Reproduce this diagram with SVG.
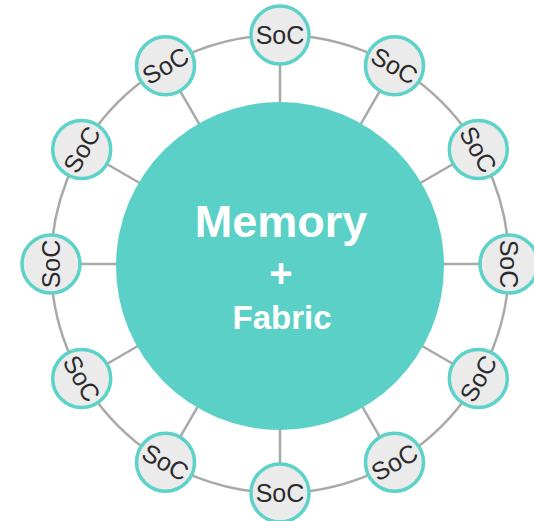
<svg xmlns="http://www.w3.org/2000/svg" width="534" height="521" viewBox="0 0 534 521">
  <style>
    .ring { fill: none; stroke: #a9a9a9; stroke-width: 2.5; }
    .spoke { stroke: #a9a9a9; stroke-width: 2.5; }
    .soc circle { fill: #ebebeb; stroke: #5dd2c8; stroke-width: 3.5; }
    .soc text { font-family: "Liberation Sans", Arial, sans-serif; font-size: 25px; fill: #2b2b2b; text-anchor: middle; }
    .main circle { fill: #5bd0c6; }
    .main text { font-family: "Liberation Sans", Arial, sans-serif; font-weight: bold; fill: #ffffff; text-anchor: middle; }
  </style>
  <rect width="534" height="521" fill="#ffffff"/>
  <g id="connectors">
    <circle class="ring" cx="280" cy="264" r="229"/>
    <line class="spoke" x1="280" y1="104" x2="280" y2="35"/>
    <line class="spoke" x1="360" y1="125.4" x2="394.5" y2="65.7"/>
    <line class="spoke" x1="418.6" y1="184" x2="478.3" y2="149.5"/>
    <line class="spoke" x1="440" y1="264" x2="509" y2="264"/>
    <line class="spoke" x1="418.6" y1="344" x2="478.3" y2="378.5"/>
    <line class="spoke" x1="360" y1="402.6" x2="394.5" y2="462.3"/>
    <line class="spoke" x1="280" y1="424" x2="280" y2="493"/>
    <line class="spoke" x1="200" y1="402.6" x2="165.5" y2="462.3"/>
    <line class="spoke" x1="141.4" y1="344" x2="81.7" y2="378.5"/>
    <line class="spoke" x1="120" y1="264" x2="51" y2="264"/>
    <line class="spoke" x1="141.4" y1="184" x2="81.7" y2="149.5"/>
    <line class="spoke" x1="200" y1="125.4" x2="165.5" y2="65.7"/>
  </g>
  <g id="memory-fabric" class="main">
    <circle cx="280" cy="266" r="164"/>
    <text x="281" y="237" font-size="45">Memory</text>
    <text x="281" y="287" font-size="40">+</text>
    <text x="282" y="329" font-size="33">Fabric</text>
  </g>
  <g id="soc-1" class="soc"><circle cx="280" cy="35" r="29"/><text x="280" y="43.8" transform="rotate(0 280 35)">SoC</text></g>
  <g id="soc-2" class="soc"><circle cx="394.5" cy="65.7" r="29"/><text x="394.5" y="74.5" transform="rotate(30 394.5 65.7)">SoC</text></g>
  <g id="soc-3" class="soc"><circle cx="478.3" cy="149.5" r="29"/><text x="478.3" y="158.3" transform="rotate(60 478.3 149.5)">SoC</text></g>
  <g id="soc-4" class="soc"><circle cx="509" cy="264" r="29"/><text x="509" y="272.8" transform="rotate(90 509 264)">SoC</text></g>
  <g id="soc-5" class="soc"><circle cx="478.3" cy="378.5" r="29"/><text x="478.3" y="387.3" transform="rotate(-60 478.3 378.5)">SoC</text></g>
  <g id="soc-6" class="soc"><circle cx="394.5" cy="462.3" r="29"/><text x="394.5" y="471.1" transform="rotate(-30 394.5 462.3)">SoC</text></g>
  <g id="soc-7" class="soc"><circle cx="280" cy="493" r="29"/><text x="280" y="501.8">SoC</text></g>
  <g id="soc-8" class="soc"><circle cx="165.5" cy="462.3" r="29"/><text x="165.5" y="471.1" transform="rotate(30 165.5 462.3)">SoC</text></g>
  <g id="soc-9" class="soc"><circle cx="81.7" cy="378.5" r="29"/><text x="81.7" y="387.3" transform="rotate(60 81.7 378.5)">SoC</text></g>
  <g id="soc-10" class="soc"><circle cx="51" cy="264" r="29"/><text x="51" y="272.8" transform="rotate(-90 51 264)">SoC</text></g>
  <g id="soc-11" class="soc"><circle cx="81.7" cy="149.5" r="29"/><text x="81.7" y="158.3" transform="rotate(-60 81.7 149.5)">SoC</text></g>
  <g id="soc-12" class="soc"><circle cx="165.5" cy="65.7" r="29"/><text x="165.5" y="74.5" transform="rotate(-30 165.5 65.7)">SoC</text></g>
</svg>
